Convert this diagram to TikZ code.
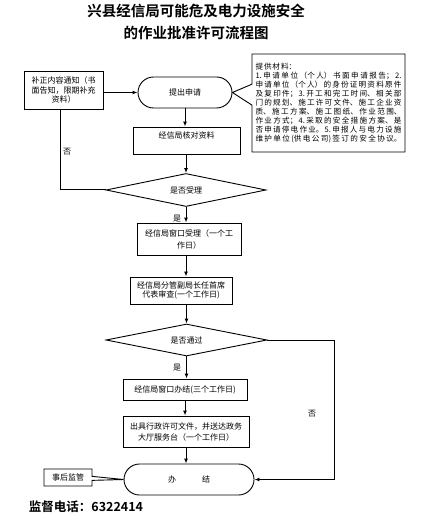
\documentclass[tikz,border=0pt]{standalone}
\usepackage{fontspec}
\setmainfont{Noto Sans CJK SC}[BoldFont={Noto Sans CJK SC Bold}]
\XeTeXlinebreaklocale "zh"
\XeTeXlinebreakskip=0.9pt plus 2pt
\usetikzlibrary{arrows.meta,positioning,shapes.geometric,shapes.callouts}
\tikzset{
  stepbox/.style={rectangle, draw=black, line width=0.9pt, align=center, inner sep=1pt, font=\fontsize{8}{10.5}\selectfont},
  endbox/.style={rectangle, rounded corners=15.5pt, draw=black, line width=0.9pt, minimum height=31pt, align=center, font=\fontsize{8}{10.5}\selectfont},
  decision/.style={diamond, aspect=5, draw=black, line width=0.9pt, inner sep=0pt, align=center, font=\fontsize{8}{10.5}\selectfont},
  notebox/.style={rectangle callout, draw=black, fill=white, line width=0.9pt, inner sep=1pt, font=\fontsize{8}{8.9}\selectfont},
  flowlabel/.style={inner sep=0pt, align=center, font=\fontsize{8}{9}\selectfont},
  titletext/.style={align=center, inner sep=0pt, font=\fontsize{14.5}{22}\bfseries},
  phonetext/.style={align=center, inner sep=0pt, font=\fontsize{12.5}{14}\bfseries},
  arrow/.style={-{Latex[length=5pt,width=4pt]}, line width=1pt},
  plainline/.style={line width=1pt}
}

\begin{document}
\begin{tikzpicture}[x=1pt,y=-1pt]
  \useasboundingbox (0,0) rectangle (422,521);
  \node[titletext] (title) at (196,22) {兴县经信局可能危及电力设施安全\\的作业批准许可流程图};

  % main column
  \node[endbox, minimum width=94pt] (apply) at (185,92.5) {提出申请};
  \node[stepbox, minimum width=107pt, minimum height=27pt] (check) at (186.5,140.5) {经信局核对资料\\\mbox{}};
  \node[decision, minimum width=160pt, minimum height=33pt] (accept) at (186,190) {是否受理};
  \node[stepbox, minimum width=104pt, minimum height=32pt, font=\fontsize{8}{12}\selectfont] (window) at (189,239) {经信局窗口受理（一个工\\作日）};
  \node[stepbox, minimum width=102pt, minimum height=27pt, font=\fontsize{8}{9.5}\selectfont] (review) at (181,290.5) {经信局分管副局长任首席\\代表审查(一个工作日)};
  \node[decision, minimum width=161pt, minimum height=32pt] (pass) at (186.5,340) {是否通过};
  \node[stepbox, minimum width=124pt, minimum height=21pt] (finish) at (185,389.5) {经信局窗口办结(三个工作日)};
  \node[stepbox, minimum width=126pt, minimum height=31pt, font=\fontsize{8}{11}\selectfont] (issue) at (186,431.5) {出具行政许可文件，并送达政务\\大厅服务台（一个工作日）};
  \node[endbox, minimum width=130pt] (done) at (189,479.5) {办\hspace{26pt}结};

  % side boxes
  \node[stepbox, minimum width=79pt, minimum height=38pt, font=\fontsize{8}{9.5}\selectfont] (fix) at (63.5,90) {补正内容通知（书\\面告知，限期补充\\资料）};
  \node[notebox, minimum width=153pt, minimum height=98pt, text width=146pt, align=justify,
        font=\fontsize{7.6}{8.9}\selectfont,
        callout absolute pointer={(apply.east)}, callout pointer width=21pt] (docs) at (328.5,103)
    {\parfillskip=0pt 提供材料：\\
     1.申请单位（个人）书面申请报告；2.\linebreak
     申请单位（个人）的身份证明资料原件\linebreak
     及复印件；3.开工和完工时间、相关部\linebreak
     门的规划、施工许可文件、施工企业资\linebreak
     质、施工方案、施工图纸、作业范围、\linebreak
     作业方式；4.采取的安全措施方案、是\linebreak
     否申请停电作业。5.申报人与电力设施\linebreak
     维护单位(供电公司)签订的安全协议。\par\vspace{9pt}};
  \node[notebox, minimum width=48pt, minimum height=17pt, align=center,
        callout absolute pointer={(done.west)}, callout pointer width=4pt] (post) at (68,477.5) {事后监管};
  \node[phonetext] (phone) at (86,507) {监督电话：6322414};

  % connectors
  \coordinate (lturn) at (60,190);
  \coordinate (rturn) at (334,340);
  \draw[arrow] (fix.east |- apply.west) -- (apply.west);
  \draw[arrow] (apply.south) -- (apply.south |- check.north);
  \draw[arrow] (check.south -| accept.north) -- (accept.north);
  \draw[plainline] (accept.west) -- (lturn) -- (lturn |- fix.south);
  \draw[arrow] (accept.south) -- (accept.south |- window.north);
  \draw[arrow] (window.south -| accept.south) -- (accept.south |- review.north);
  \draw[arrow] (review.south -| pass.north) -- (pass.north);
  \draw[arrow] (pass.south) -- (pass.south |- finish.north);
  \draw[arrow] (finish.south) -- (finish.south |- issue.north);
  \draw[arrow] (issue.south) -- (issue.south |- done.north);
  \draw[arrow] (pass.east) -- (rturn) |- (done.east);

  % labels
  \node[flowlabel] (no1) at (67,152) {否};
  \node[flowlabel] (yes1) at (177,219) {是};
  \node[flowlabel] (yes2) at (177,368) {是};
  \node[flowlabel] (no2) at (312,414) {否};
\end{tikzpicture}
\end{document}
